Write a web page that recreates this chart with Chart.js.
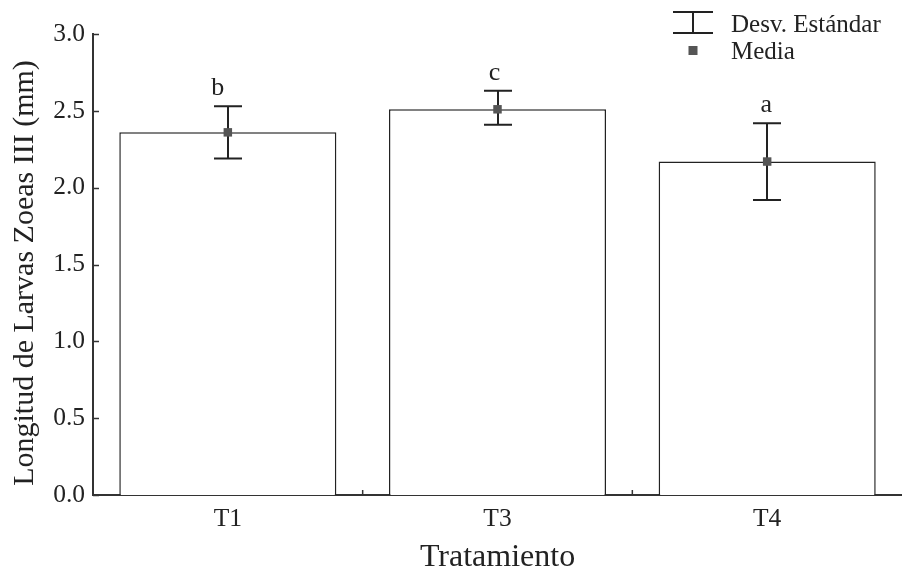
<!DOCTYPE html>
<html>
<head>
<meta charset="utf-8">
<script src="https://cdn.jsdelivr.net/npm/chart.js@4/dist/chart.umd.min.js"></script>
<style>
  html, body { margin: 0; padding: 0; background: #fff; }
  #wrap { width: 902px; height: 577px; }
</style>
</head>
<body>
<div id="wrap"><canvas id="c" width="902" height="577"></canvas></div>
<script>
// Treatments and measured larval length (mm)
const categories = ['T1', 'T3', 'T4'];
const means = [2.36, 2.51, 2.17];
const sdUpper = [2.53, 2.63, 2.42];
const sdLower = [2.19, 2.41, 1.92];
const letters = ['b', 'c', 'a'];
const yTicks = [0, 0.5, 1.0, 1.5, 2.0, 2.5, 3.0];
const yTitle = 'Longitud de Larvas Zoeas III (mm)';

const SERIF = '"Liberation Serif", "DejaVu Serif", serif';
const INK = '#222';
const LETTER_SHIFT = [-10, -3, -1];

// Error bars, group letters, inward tick marks, y title and the legend box
const decorations = {
  id: 'decorations',
  afterDatasetDraw(chart, args) {
    if (args.index !== 0) return;
    const ctx = chart.ctx;
    const x = chart.scales.x, y = chart.scales.y;
    ctx.save();
    ctx.strokeStyle = INK;
    ctx.lineWidth = 2;
    categories.forEach((c, i) => {
      const px = Math.round(x.getPixelForValue(i));
      const top = y.getPixelForValue(sdUpper[i]);
      const bot = y.getPixelForValue(sdLower[i]);
      const cap = 14;
      ctx.beginPath();
      ctx.moveTo(px, top); ctx.lineTo(px, bot);
      ctx.moveTo(px - cap, top); ctx.lineTo(px + cap, top);
      ctx.moveTo(px - cap, bot); ctx.lineTo(px + cap, bot);
      ctx.stroke();
    });
    ctx.restore();
  },
  afterDraw(chart) {
    const ctx = chart.ctx;
    const x = chart.scales.x, y = chart.scales.y;
    const area = chart.chartArea;
    ctx.save();
    // group letters above each error bar
    ctx.fillStyle = INK;
    ctx.font = '26px ' + SERIF;
    ctx.textAlign = 'center';
    ctx.textBaseline = 'alphabetic';
    categories.forEach((c, i) => {
      const px = x.getPixelForValue(i);
      ctx.fillText(letters[i], px + LETTER_SHIFT[i], y.getPixelForValue(sdUpper[i]) - 11);
    });
    // inward y ticks
    ctx.strokeStyle = '#333';
    ctx.lineWidth = 1.5;
    yTicks.forEach(v => {
      const py = Math.round(y.getPixelForValue(v)) + 0.5;
      ctx.beginPath();
      ctx.moveTo(area.left, py); ctx.lineTo(area.left + 6, py);
      ctx.stroke();
    });
    // small upward ticks between categories
    for (let i = 0; i < categories.length - 1; i++) {
      const px = (x.getPixelForValue(i) + x.getPixelForValue(i + 1)) / 2;
      ctx.beginPath();
      ctx.moveTo(px, area.bottom); ctx.lineTo(px, area.bottom - 5);
      ctx.stroke();
    }
    // rotated y-axis title
    ctx.save();
    ctx.fillStyle = INK;
    ctx.font = '30px ' + SERIF;
    ctx.translate(33, 273);
    ctx.rotate(-Math.PI / 2);
    ctx.textAlign = 'center';
    ctx.textBaseline = 'alphabetic';
    ctx.fillText(yTitle, 0, 0);
    ctx.restore();
    // legend
    ctx.strokeStyle = INK;
    ctx.lineWidth = 2;
    const lx0 = 673, lx1 = 713, lmid = 693;
    ctx.beginPath();
    ctx.moveTo(lx0, 12); ctx.lineTo(lx1, 12);
    ctx.moveTo(lmid, 12); ctx.lineTo(lmid, 33);
    ctx.moveTo(lx0, 33); ctx.lineTo(lx1, 33);
    ctx.stroke();
    ctx.fillStyle = '#555';
    ctx.fillRect(lmid - 4.5, 46, 9, 9);
    ctx.fillStyle = INK;
    ctx.font = '25px ' + SERIF;
    ctx.textAlign = 'left';
    ctx.textBaseline = 'alphabetic';
    ctx.fillText('Desv. Estándar', 731, 32);
    ctx.fillText('Media', 731, 59);
    ctx.restore();
  }
};

new Chart(document.getElementById('c'), {
  data: {
    labels: categories,
    datasets: [
      {
        type: 'bar',
        label: 'Longitud',
        data: means,
        backgroundColor: '#ffffff',
        borderColor: INK,
        borderWidth: 1.5,
        barPercentage: 0.805,
        categoryPercentage: 1.0,
        order: 2
      },
      {
        type: 'line',
        label: 'Media',
        data: means,
        showLine: false,
        pointStyle: 'rect',
        pointRadius: 6,
        pointBackgroundColor: '#555',
        pointBorderColor: '#555',
        pointBorderWidth: 0,
        order: 1
      }
    ]
  },
  options: {
    responsive: false,
    animation: false,
    devicePixelRatio: 1,
    layout: { autoPadding: false, padding: { top: 34, right: 0, left: 0, bottom: 0 } },
    plugins: { legend: { display: false }, tooltip: { enabled: false } },
    scales: {
      x: {
        type: 'category',
        grid: { display: false, drawTicks: false },
        border: { display: true, color: '#333', width: 2 },
        ticks: { color: INK, font: { family: SERIF, size: 25.5 }, padding: 9 },
        title: { display: true, text: 'Tratamiento', color: INK, font: { family: SERIF, size: 32 }, padding: { top: 0, bottom: 0 } },
        afterFit(s) { s.height = 82; }
      },
      y: {
        min: 0, max: 3,
        grid: { display: false, drawTicks: false },
        border: { display: true, color: '#333', width: 2 },
        ticks: {
          stepSize: 0.5,
          color: INK,
          font: { family: SERIF, size: 25.5 },
          padding: 8,
          callback: v => Number(v).toFixed(1)
        },
        title: { display: false },
        afterFit(s) { s.width = 93; }
      }
    }
  },
  plugins: [decorations]
});
</script>
</body>
</html>
